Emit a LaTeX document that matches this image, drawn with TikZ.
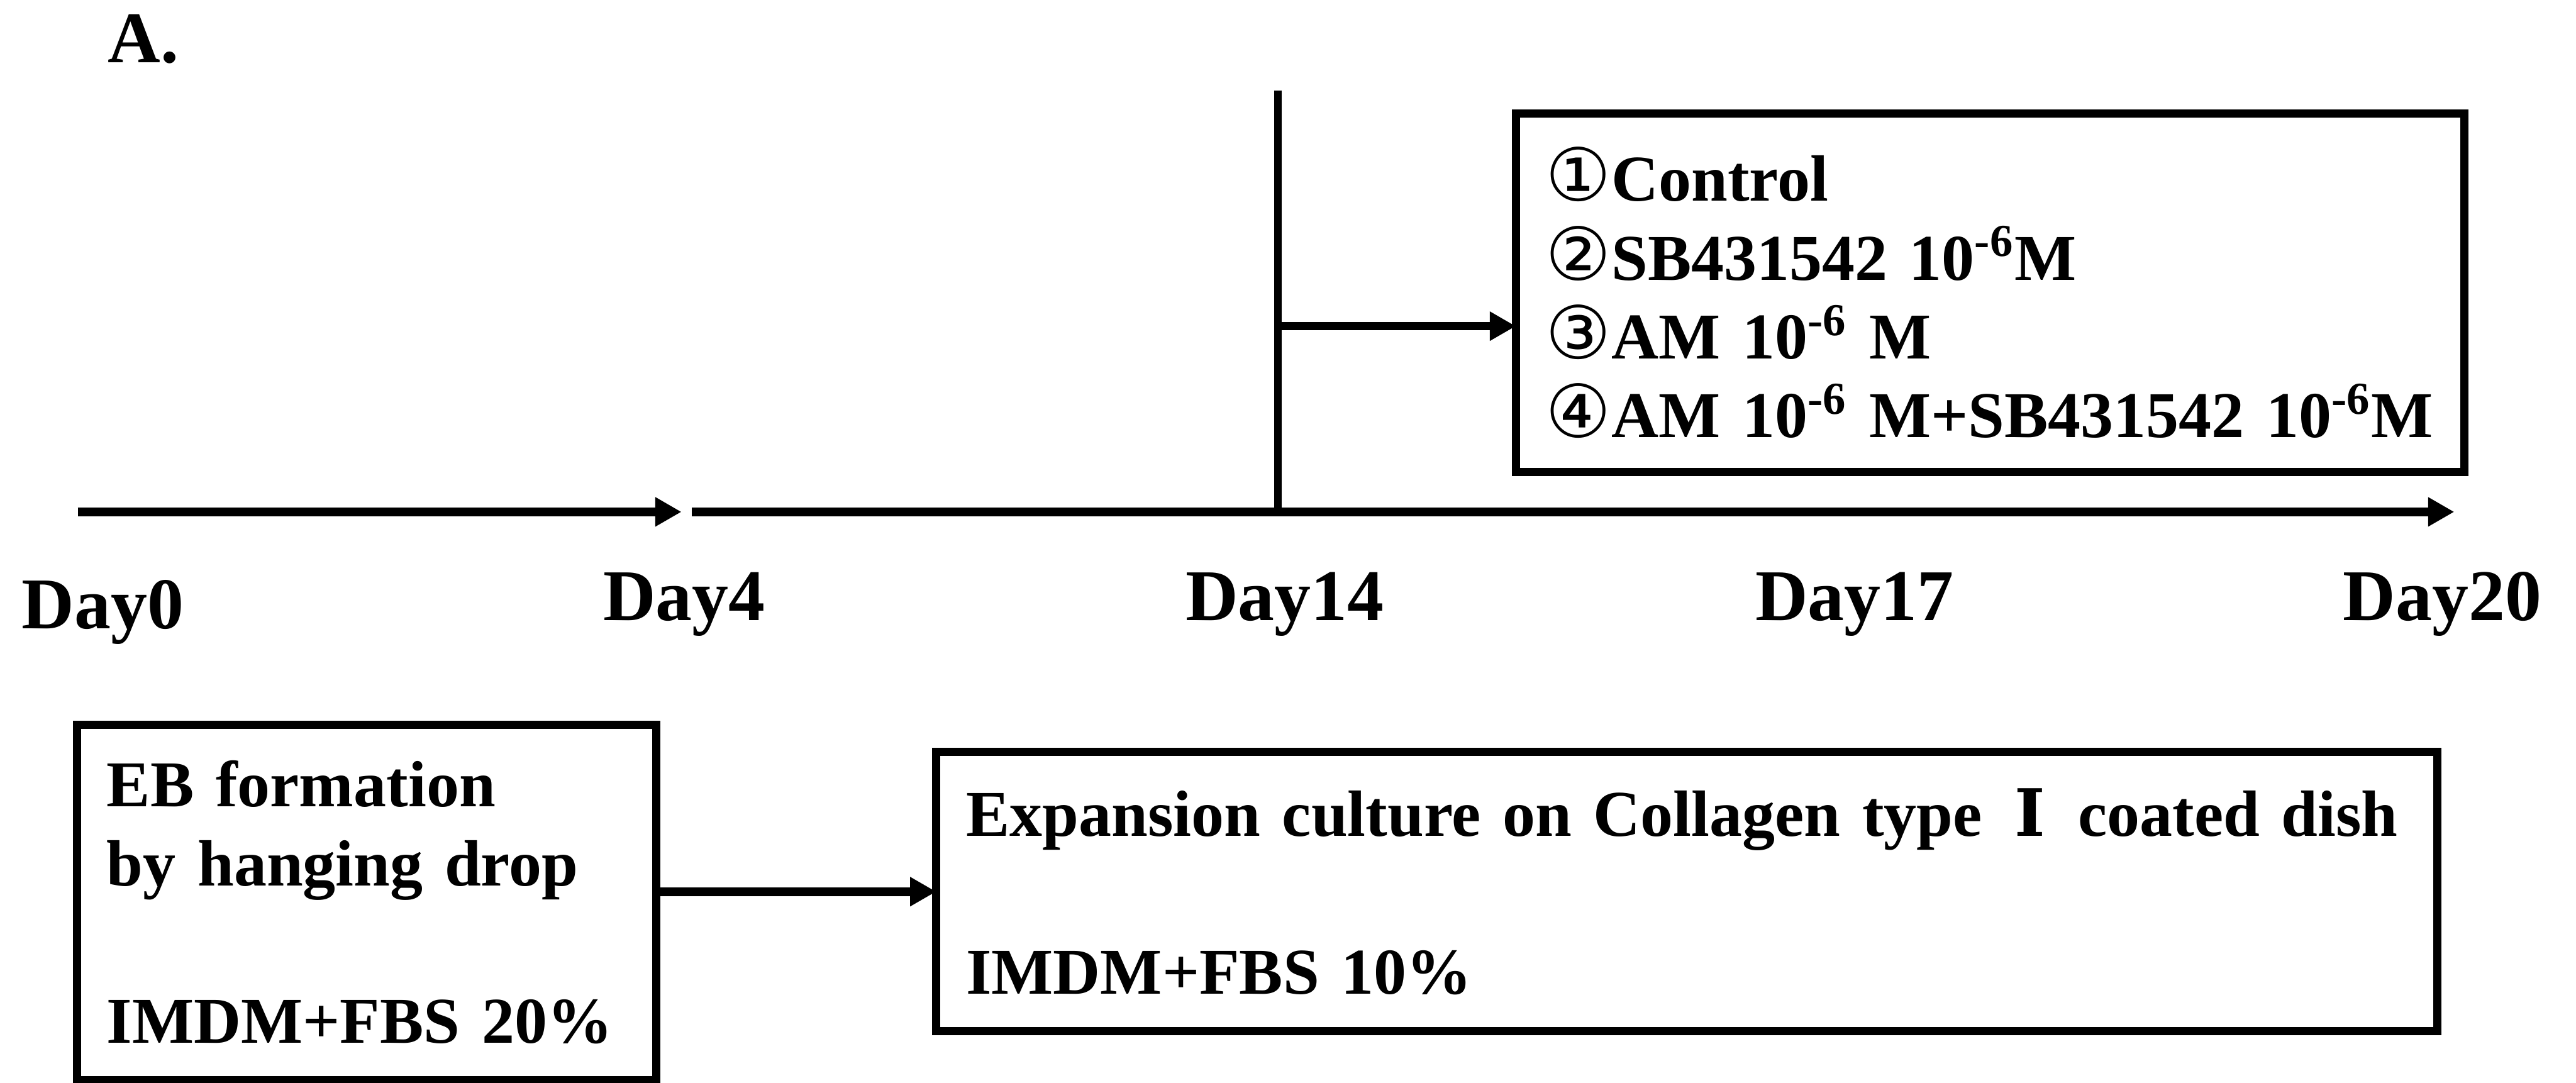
\documentclass[tikz,border=0pt]{standalone}
\usepackage{fontspec}
\setmainfont{Liberation Serif}
\newfontfamily\circfont[Scale=1.12]{DejaVu Sans}
\newfontfamily\romfont{DejaVu Serif}
\usepackage{tikz}
\usetikzlibrary{arrows.meta, positioning}

\newcommand{\boxfont}{\fontsize{17.5}{21.1}\selectfont\bfseries}
\newcommand{\dayfont}{\fontsize{19.5}{23}\selectfont\bfseries}
\newcommand{\circled}[1]{{\circfont\mdseries #1}}
\newcommand{\tenm}{10\textsuperscript{-6}}

\tikzset{
  box/.style={draw, line width=2.2pt, outer sep=0pt, inner xsep=8pt,
    align=left, font=\boxfont},
  day/.style={anchor=base, inner sep=0pt, font=\dayfont},
  tl/.style={line width=2.3pt, -{Triangle[length=7pt, width=7.4pt]}},
}

\begin{document}
\begin{tikzpicture}[x=10pt, y=10pt]
      \useasboundingbox (0,0) rectangle (68.95,-28.98);%
      % Panel label
      \node [anchor=base west, inner sep=0pt, font=\dayfont] (A) at
      (2.87,-1.67) {A.};%

      % Timeline
      \coordinate (d0) at (2.08,-13.70);%
      \coordinate (d4) at (18.24,-13.70);%
      \coordinate (d4b) at (18.52,-13.70);%
      \coordinate (d20) at (65.69,-13.70);%
      \draw [tl] (d0) -- (d4);%
      \draw [tl] (d4b) -- (d20);%
      % -- days
      \node [day] (D0) at (2.75,-16.82) {Day0};%
      \node [day] (D4) at (18.31,-16.61) {Day4};%
      \node [day] (D14) at (34.39,-16.61) {Day14};%
      \node [day] (D17) at (49.64,-16.61) {Day17};%
      \node [day] (D20) at (65.37,-16.61) {Day20};%

      % Treatment from Day14
      \coordinate (vtop) at (34.20,-2.42);%
      \coordinate (vbot) at (34.20,-13.70);%
      \draw [line width=2pt] (vtop) -- (vbot);%
      \coordinate (branch) at (34.20,-8.73);%
      \node [box, minimum height=96pt, text width=237.9pt] (tbox) at
      (53.27,-7.835) {\circled{①}Control\\
        \circled{②}SB431542 \tenm M\\
        \circled{③}AM \tenm\ M\\
        \circled{④}AM \tenm\ M+SB431542 \tenm M};%
      \draw [tl] (branch) -- (branch -| tbox.west);%

      % Culture steps
      \node [box, minimum height=95pt, text width=139pt] (ebbox) at
      (9.81,-24.155) {EB formation\\by hanging drop\\[21.1pt]IMDM+FBS 20\%};%
      \node [box, minimum height=74.7pt, text width=385.8pt, right=75pt of
      ebbox, yshift=2.9pt] (exbox) {Expansion culture on Collagen
        type\hspace{0.5em}{\romfont Ⅰ}\hspace{0.5em}coated dish\\[21.1pt]
        IMDM+FBS 10\%};%

      % arrows
      \draw [tl] (exbox.west -| ebbox.east) -- (exbox.west);%
\end{tikzpicture}
\end{document}
